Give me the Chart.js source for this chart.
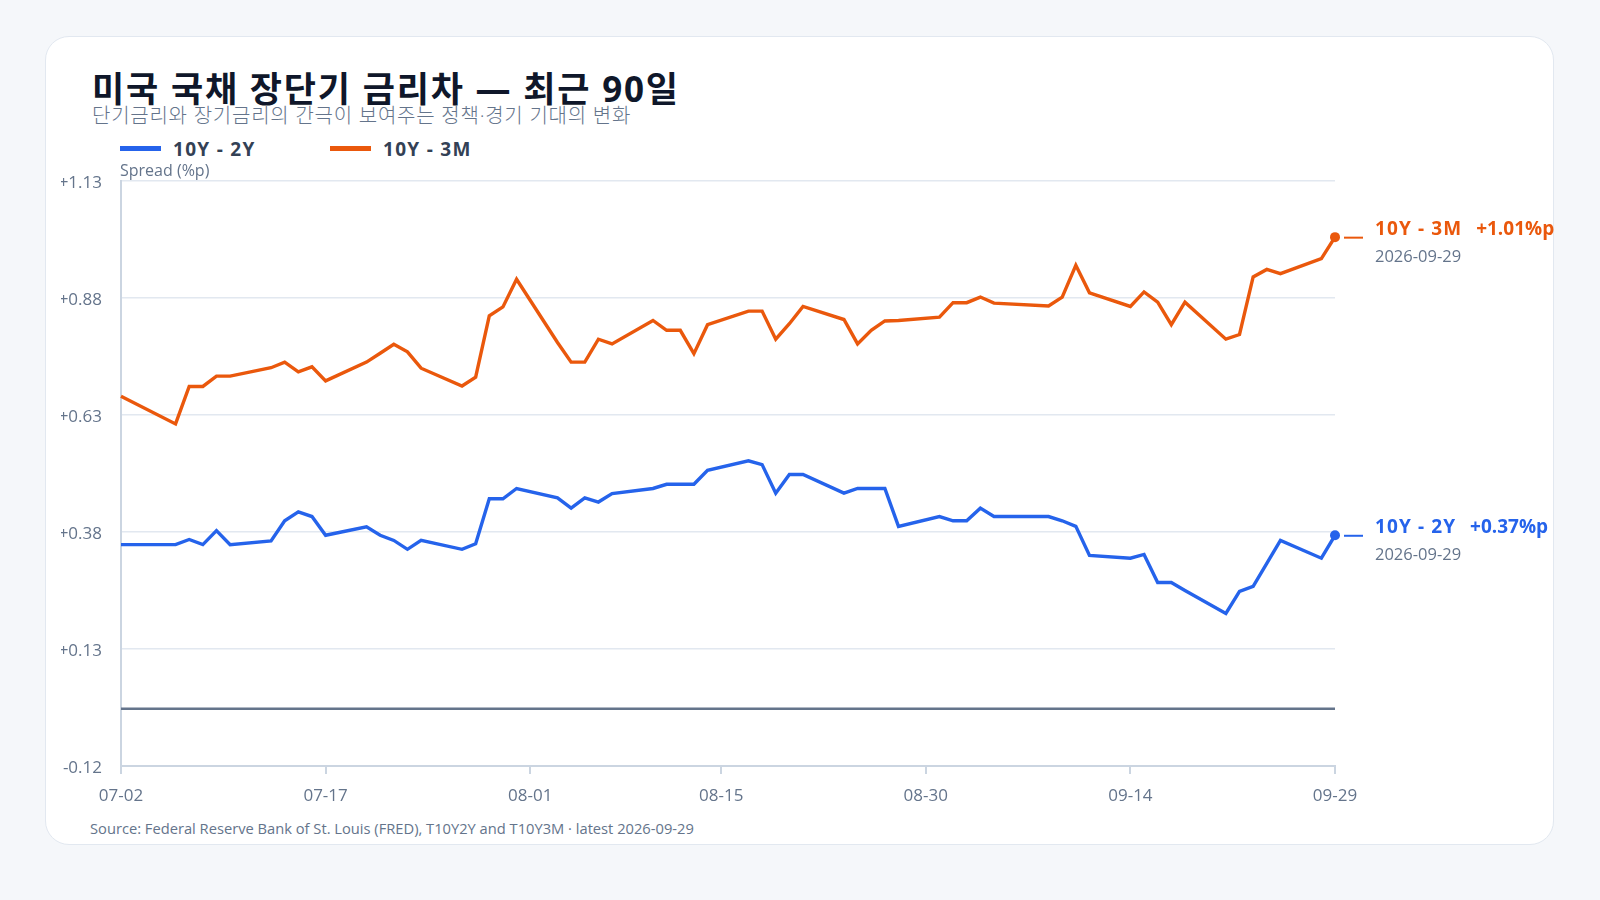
<!DOCTYPE html>
<html lang="ko">
<head>
<meta charset="utf-8">
<script src="https://cdn.jsdelivr.net/npm/chart.js@4.4.1/dist/chart.umd.min.js"></script>
<style>
  html, body { margin: 0; padding: 0; }
  body {
    width: 1600px; height: 900px; position: relative; overflow: hidden;
    background: #f5f7fa;
    font-family: "Open Sans", "Noto Sans CJK KR", sans-serif;
  }
  .card {
    position: absolute; left: 45px; top: 36px; width: 1509px; height: 809px;
    box-sizing: border-box; background: #fff;
    border: 1.5px solid #e2e8f0; border-radius: 24px;
  }
  .title {
    position: absolute; left: 92px; top: 71px; margin: 0; white-space: nowrap;
    font-size: 35px; line-height: 35px; font-weight: 700; color: #0f172a;
    letter-spacing: 1.8px;
  }
  .subtitle {
    position: absolute; left: 92px; top: 106px; white-space: nowrap;
    font-size: 20px; line-height: 20px; font-weight: 300; color: #64748b;
    letter-spacing: 0.75px;
  }
  .legend { position: absolute; top: 139px; left: 120px; height: 20px; }
  .legend span {
    position: absolute; top: 0; white-space: nowrap;
    font-size: 19px; line-height: 20px; font-weight: 700; color: #334155;
    letter-spacing: 1.3px;
  }
  .legend i { display: inline-block; width: 41px; height: 5px; vertical-align: middle; margin-right: 12px; position: relative; top: -2px; }
  .source {
    position: absolute; left: 90px; top: 820px; white-space: nowrap;
    font-size: 14.7px; line-height: 17px; color: #64748b;
  }
  #chart { position: absolute; left: 0; top: 0; }
</style>
</head>
<body>
<div class="card"></div>
<div class="title">미국 국채 장단기 금리차 — 최근 90일</div>
<div class="subtitle">단기금리와 장기금리의 간극이 보여주는 정책·경기 기대의 변화</div>
<div class="legend">
  <span style="left:0"><i style="background:#2563eb"></i>10Y - 2Y</span>
  <span style="left:210px"><i style="background:#ea580c"></i>10Y - 3M</span>
</div>
<div class="source">Source: Federal Reserve Bank of St. Louis (FRED), T10Y2Y and T10Y3M · latest 2026-09-29</div>
<canvas id="chart" width="1600" height="900"></canvas>
<script>
const year = 2026;

const dates = [
  '07-02', '07-06', '07-07', '07-08', '07-09', '07-10',
  '07-13', '07-14', '07-15', '07-16', '07-17',
  '07-20', '07-21', '07-22', '07-23', '07-24',
  '07-27', '07-28', '07-29', '07-30', '07-31',
  '08-03', '08-04', '08-05', '08-06', '08-07',
  '08-10', '08-11', '08-12', '08-13', '08-14',
  '08-17', '08-18', '08-19', '08-20', '08-21',
  '08-24', '08-25', '08-26', '08-27', '08-28',
  '08-31', '09-01', '09-02', '09-03', '09-04',
  '09-08', '09-09', '09-10', '09-11',
  '09-14', '09-15', '09-16', '09-17', '09-18',
  '09-21', '09-22', '09-23', '09-24', '09-25',
  '09-28', '09-29'
];

const spread10y2y = [
  0.353, 0.353, 0.364, 0.353, 0.383, 0.353,
  0.361, 0.404, 0.423, 0.413, 0.373,
  0.391, 0.373, 0.362, 0.343, 0.362,
  0.343, 0.355, 0.451, 0.451, 0.473,
  0.453, 0.431, 0.453, 0.444, 0.462,
  0.473, 0.482, 0.482, 0.482, 0.512,
  0.532, 0.524, 0.463, 0.503, 0.503,
  0.463, 0.473, 0.473, 0.473, 0.392,
  0.413, 0.404, 0.404, 0.431, 0.413,
  0.413, 0.404, 0.392, 0.330,
  0.324, 0.332, 0.272, 0.272, 0.255,
  0.206, 0.253, 0.264, 0.313, 0.362,
  0.324, 0.373
];

const spread10y3m = [
  0.670, 0.611, 0.691, 0.691, 0.713, 0.713,
  0.731, 0.743, 0.722, 0.733, 0.703,
  0.743, 0.762, 0.781, 0.765, 0.730,
  0.692, 0.711, 0.842, 0.861, 0.920,
  0.785, 0.743, 0.743, 0.792, 0.782,
  0.832, 0.811, 0.811, 0.761, 0.823,
  0.852, 0.852, 0.792, 0.825, 0.862,
  0.834, 0.782, 0.811, 0.831, 0.832,
  0.839, 0.870, 0.870, 0.882, 0.869,
  0.863, 0.882, 0.950, 0.891,
  0.862, 0.893, 0.871, 0.823, 0.871,
  0.792, 0.802, 0.925, 0.941, 0.932,
  0.964, 1.010
];

const yTicks = [-0.12, 0.13, 0.38, 0.63, 0.88, 1.13];
const xTicks = ['07-02', '07-17', '08-01', '08-15', '08-30', '09-14', '09-29'];

const seriesNames = ['10Y - 2Y', '10Y - 3M'];
const seriesColors = ['#2563eb', '#ea580c'];

function dayOf(mmdd) {
  const [m, d] = mmdd.split('-').map(Number);
  return Math.round((Date.UTC(year, m - 1, d) - Date.UTC(year, 6, 2)) / 86400000);
}
function labelOf(day) {
  const t = new Date(Date.UTC(year, 6, 2) + day * 86400000);
  return String(t.getUTCMonth() + 1).padStart(2, '0') + '-' + String(t.getUTCDate()).padStart(2, '0');
}
function fmt(v) {
  return (v > 0 ? '+' : '') + v.toFixed(2);
}

const FONT = '"Open Sans", "Noto Sans CJK KR", sans-serif';

function series(values, i) {
  const last = values.length - 1;
  return {
    label: seriesNames[i],
    data: values.map((v, k) => ({ x: dayOf(dates[k]), y: v })),
    borderColor: seriesColors[i],
    backgroundColor: seriesColors[i],
    borderWidth: 3.4,
    tension: 0,
    fill: false,
    clip: false,
    pointRadius: ctx => ctx.dataIndex === last ? 5 : 0,
    pointBorderWidth: 0,
    pointHoverRadius: 0
  };
}

// zero line, axis caption, end labels
const extras = {
  id: 'extras',
  beforeDatasetsDraw(chart) {
    const { ctx, chartArea, scales: { y } } = chart;
    const y0 = y.getPixelForValue(0);
    ctx.save();
    ctx.strokeStyle = '#64748b';
    ctx.lineWidth = 2.5;
    ctx.beginPath();
    ctx.moveTo(chartArea.left, y0 - 1);
    ctx.lineTo(chartArea.right, y0 - 1);
    ctx.stroke();
    ctx.restore();
  },
  afterDraw(chart) {
    const { ctx, chartArea } = chart;
    ctx.save();
    ctx.font = '16px ' + FONT;
    ctx.fillStyle = '#64748b';
    ctx.textAlign = 'left';
    ctx.textBaseline = 'middle';
    ctx.fillText('Spread (%p)', chartArea.left - 1, chartArea.top - 10);

    chart.data.datasets.forEach((ds, i) => {
      const meta = chart.getDatasetMeta(i);
      const pt = meta.data[meta.data.length - 1];
      const val = ds.data[ds.data.length - 1].y;
      ctx.strokeStyle = seriesColors[i];
      ctx.lineWidth = 2;
      ctx.beginPath();
      ctx.moveTo(pt.x + 9, pt.y + 0.5);
      ctx.lineTo(pt.x + 28, pt.y + 0.5);
      ctx.stroke();

      const tx = pt.x + 40;
      ctx.fillStyle = seriesColors[i];
      ctx.font = 'bold 19px ' + FONT;
      ctx.textBaseline = 'alphabetic';
      ctx.letterSpacing = '1.1px';
      ctx.fillText(ds.label, tx, pt.y - 2);
      const w = ctx.measureText(ds.label).width;
      ctx.letterSpacing = '0px';
      ctx.fillText(fmt(val) + '%p', tx + w + 14, pt.y - 2);

      ctx.fillStyle = '#64748b';
      ctx.font = '16.5px ' + FONT;
      ctx.fillText(year + '-' + dates[dates.length - 1], tx, pt.y + 25);
    });
    ctx.restore();
  }
};

new Chart(document.getElementById('chart'), {
  type: 'line',
  data: {
    datasets: [series(spread10y2y, 0), series(spread10y3m, 1)]
  },
  options: {
    responsive: false,
    animation: false,
    devicePixelRatio: 1,
    layout: { padding: { top: 181, left: 61, right: 265, bottom: 94 } },
    plugins: {
      legend: { display: false },
      tooltip: { enabled: false }
    },
    scales: {
      x: {
        type: 'linear',
        min: 0,
        max: dayOf(dates[dates.length - 1]),
        afterBuildTicks: s => { s.ticks = xTicks.map(d => ({ value: dayOf(d) })); },
        afterFit: s => { s.height = 40; },
        grid: { drawOnChartArea: false, drawTicks: true, tickLength: 8, color: '#cbd5e1', lineWidth: 2 },
        border: { color: '#cbd5e1', width: 2 },
        ticks: {
          color: '#64748b', font: { family: FONT, size: 17 }, padding: 12,
          maxRotation: 0, autoSkip: false,
          callback: v => labelOf(v)
        }
      },
      y: {
        min: -0.12,
        max: 1.13,
        afterBuildTicks: s => { s.ticks = yTicks.map(v => ({ value: v })); },
        afterFit: s => { s.width = 60; },
        grid: { color: '#e2e8f0', lineWidth: 1.5, drawTicks: false },
        border: { color: '#cbd5e1', width: 2 },
        ticks: {
          color: '#64748b', font: { family: FONT, size: 17 }, padding: 19,
          labelOffset: 2,
          callback: v => fmt(v)
        }
      }
    }
  },
  plugins: [extras]
});
</script>
</body>
</html>
